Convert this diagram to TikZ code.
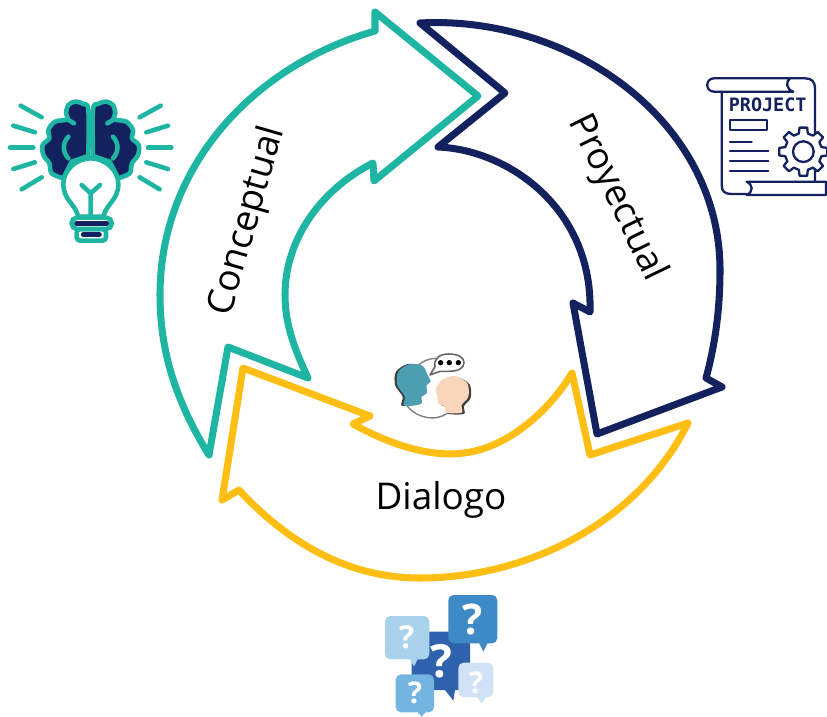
\documentclass[tikz,border=0pt]{standalone}
\usepackage{fontspec}
\setmainfont{Open Sans}
\newfontfamily\iconfont{DejaVu Sans Mono}
\definecolor{tealc}{HTML}{1FB5A3}
\definecolor{navyc}{HTML}{14215F}
\definecolor{yellowc}{HTML}{FFBE14}
\definecolor{bubblea}{HTML}{3D8AC7}
\definecolor{bubbleb}{HTML}{A9D3EC}
\definecolor{bubblec}{HTML}{2F62AD}
\definecolor{bubbled}{HTML}{73B4E0}
\definecolor{bubblee}{HTML}{CFE2F6}
\definecolor{headl}{HTML}{4B9FB0}
\definecolor{headr}{HTML}{F9D5BB}
\tikzset{
  cycle arrow/.style={line width=4pt,line join=round,line cap=round},
  cycle label/.style={font=\fontsize{21}{24}\selectfont,text=black},
  ray/.style={tealc,line width=2.6pt,line cap=round},
  icon line/.style={navyc,line width=1.3pt,line cap=round,line join=round},
  mark sign/.style={text=white,font=\bfseries\fontsize{#1}{#1}\selectfont}
}

\begin{document}
\begin{tikzpicture}[x=0.02cm,y=-0.02cm]
  \path[use as bounding box,clip] (0,0) rectangle (827,716);
  %
  % Conceptual arrow
  \draw[cycle arrow,tealc] (209,455) .. controls (175,400) and (160,350) .. (160,295)
    .. controls (160,165) and (255,65) .. (375,31)
    -- (375,12) -- (478,96) -- (374,181) -- (373,163)
    .. controls (320,190) and (285,240) .. (285,295)
    .. controls (285,325) and (295,350) .. (308,378)
    -- (228,347) -- cycle;
  %
  % Proyectual arrow
  \draw[cycle arrow,navyc] (420,23) .. controls (570,15) and (720,120) .. (720,270)
    .. controls (720,310) and (715,345) .. (706,378)
    -- (722,387) -- (597,434) -- (573,303) -- (590,312)
    .. controls (593,210) and (510,150) .. (438,147)
    -- (505,93) -- cycle;
  %
  % Dialogo arrow
  \draw[cycle arrow,yellowc] (243,368) -- (370,416) -- (353,424)
    .. controls (400,450) and (440,458) .. (470,452)
    .. controls (510,445) and (550,410) .. (572,373)
    -- (590,455) -- (688,423)
    .. controls (640,520) and (530,578) .. (420,578)
    .. controls (350,578) and (290,545) .. (239,490)
    -- (222,500) -- cycle;
  %
  % Labels
  \node[cycle label,rotate=74] (conceptual) at (248,221) {Conceptual};
  \node[cycle label,rotate=-64] (proyectual) at (617,198) {Proyectual};
  \node[cycle label] (dialogo) at (441,500) {Dialogo};
  %
  % Brain and bulb
  \begin{scope}[shift={(0,80)},scale=1/3]
    \foreach \s in {1,-1} {
      \begin{scope}[shift={(272,0)},xscale=\s]
        \draw[tealc,line width=2.6pt,fill=navyc,line join=round] plot[smooth,tension=0.55] coordinates {
          (-7,228) (-7,90) (-22,72) (-47,65) (-67,75) (-74,100) (-70,118) (-107,125)
          (-127,150) (-124,175) (-144,195) (-142,225) (-124,250) (-117,280) (-82,295)} -- (-57,245) -- cycle;
        \draw[ray] (-67,170) .. controls (-85,190) and (-85,215) .. (-67,235);
        \draw[ray] (-70,118) -- (-50,130);
        \draw[ray] (-147,112) -- (-210,77);
        \draw[ray] (-167,157) -- (-232,137);
        \draw[ray] (-172,203) -- (-242,203);
        \draw[ray] (-167,247) -- (-232,267);
        \draw[ray] (-147,292) -- (-207,328);
      \end{scope}
    }
    \draw[tealc,line width=2.6pt,fill=white] (235,410)
      .. controls (225,370) and (190,360) .. (190,312)
      .. controls (190,270) and (230,235) .. (272,235)
      .. controls (315,235) and (355,270) .. (355,312)
      .. controls (355,360) and (320,370) .. (310,410) -- cycle;
    \draw[ray] (245,315) -- (272,340) -- (300,315) (272,340) -- (272,405);
    \draw[tealc,line width=2.6pt,fill=white,rounded corners=2pt] (230,447) rectangle (318,482);
    \draw[tealc,line width=2.6pt,fill=white,rounded corners=3pt] (215,413) rectangle (335,447);
    \draw[navyc,line width=2.8pt,line cap=round] (230,430) -- (320,430) (250,464) -- (298,464);
  \end{scope}
  %
  % Project sheet
  \begin{scope}[shift={(690,60)},scale=1/3]
    \draw[icon line] (300,55) -- (345,55) .. controls (365,55) and (375,65) .. (375,85) -- (375,365);
    \draw[icon line] (95,95) -- (95,375) .. controls (95,395) and (105,402) .. (125,402) -- (170,402);
    \draw[icon line] (310,95) -- (72,95) .. controls (45,95) and (45,55) .. (72,55) -- (300,55)
      .. controls (285,65) and (290,90) .. (310,95);
    \draw[icon line,fill=white] (170,365) -- (408,365) -- (408,405) -- (170,405)
      .. controls (190,395) and (190,375) .. (170,365);
    \node[text=navyc,font=\iconfont\bfseries\fontsize{10.5}{12}\selectfont] (project) at (233,133) {PROJECT};
    \draw[icon line] (120,180) rectangle (230,210);
    \draw[icon line] (120,245) -- (185,245) (120,272) -- (235,272)
      (120,302) -- (235,302) (120,332) -- (235,332);
    \begin{scope}[shift={(340,275)}]
      \draw[icon line,fill=white] (-14:56)
        \foreach \a in {0,45,...,315} { -- (\a-14:56) -- (\a-9:73) -- (\a+9:73) -- (\a+14:56) } -- cycle;
      \draw[icon line] (0,0) circle [radius=31];
    \end{scope}
  \end{scope}
  %
  % Question bubbles
  \begin{scope}[shift={(370,580)},scale=1/3]
    \fill[bubblec] (125,155) -- (300,155) -- (300,330) -- (255,330) -- (250,362)
      -- (225,330) -- (125,330) -- cycle;
    \fill[bubblea,rounded corners=3pt] (235,45) rectangle (382,190);
    \fill[bubblea] (325,185) -- (355,185) -- (340,215) -- cycle;
    \fill[bubbleb,rounded corners=3pt] (45,108) rectangle (178,238);
    \fill[bubbleb] (118,233) -- (145,233) -- (132,260) -- cycle;
    \fill[bubblee,rounded corners=3pt] (265,248) rectangle (370,352);
    \fill[bubblee] (320,348) -- (350,348) -- (335,370) -- cycle;
    \fill[bubbled,rounded corners=3pt] (77,283) rectangle (192,397);
    \fill[bubbled] (140,393) -- (170,393) -- (155,410) -- cycle;
    \node[mark sign=24] (marka) at (308,118) {?};
    \node[mark sign=26] (markc) at (214,245) {?};
    \node[mark sign=18] (markb) at (110,172) {?};
    \node[mark sign=17] (markd) at (135,338) {?};
    \node[mark sign=17] (marke) at (318,308) {?};
  \end{scope}
  %
  % Two heads
  \begin{scope}[shift={(380,340)},scale=1/3]
    \draw[gray,line width=0.8pt] (115,75) .. controls (130,62) and (150,55) .. (168,55);
    \draw[gray,line width=0.8pt] (78,192) .. controls (100,230) and (165,250) .. (205,217);
    \fill[black!75,xshift=-4] plot[smooth cycle,tension=0.5] coordinates {
      (72,197) (75,170) (52,135) (55,95) (90,72) (128,78) (143,105) (152,125)
      (140,135) (140,160) (125,170) (122,192)};
    \fill[headl] plot[smooth cycle,tension=0.5] coordinates {
      (72,197) (75,170) (52,135) (55,95) (90,72) (128,78) (143,105) (152,125)
      (140,135) (140,160) (125,170) (122,192)};
    \fill[black!75,xshift=4,yshift=-2] plot[smooth cycle,tension=0.5] coordinates {
      (197,218) (245,218) (245,195) (265,170) (262,130) (225,108) (185,120)
      (167,150) (172,165) (175,190) (195,200)};
    \fill[headr] plot[smooth cycle,tension=0.5] coordinates {
      (197,218) (245,218) (245,195) (265,170) (262,130) (225,108) (185,120)
      (167,150) (172,165) (175,190) (195,200)};
    \draw[black!60,line width=0.9pt,fill=white,line join=round] (150,105) -- (165,80)
      .. controls (160,55) and (180,42) .. (205,42)
      .. controls (240,42) and (252,55) .. (252,68)
      .. controls (252,85) and (235,94) .. (205,94) -- (180,94) -- cycle;
    \foreach \x in {182,208,235} {
      \fill[black] (\x,68) circle [radius=8];
    }
  \end{scope}
  %
\end{tikzpicture}
\end{document}
